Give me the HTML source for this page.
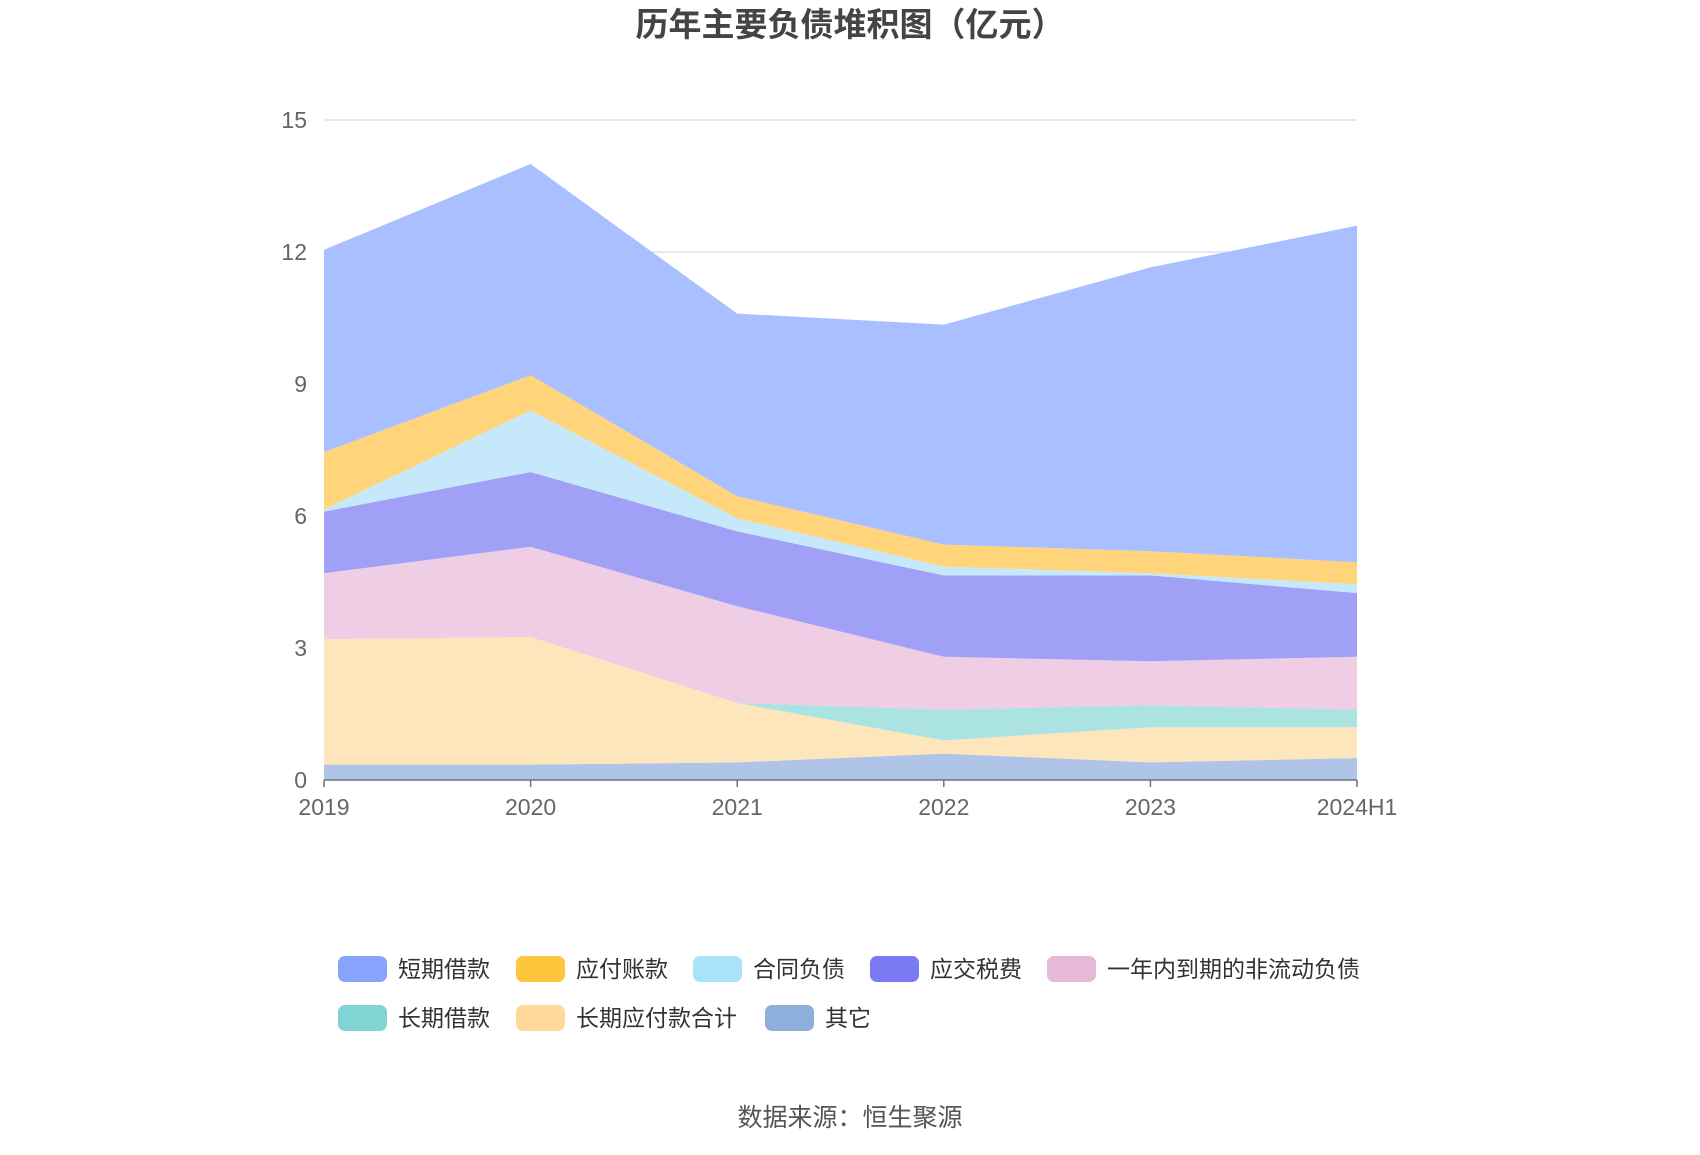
<!DOCTYPE html>
<html><head><meta charset="utf-8"><style>
body{margin:0;background:#fff;width:1700px;height:1150px;overflow:hidden;font-family:"Liberation Sans","Noto Sans CJK SC",sans-serif;}
</style></head><body>
<svg id="chart" width="1700" height="1150" xmlns="http://www.w3.org/2000/svg">
<text x="850" y="36" text-anchor="middle" font-size="33" font-weight="bold" fill="#444" font-family="Liberation Sans, Noto Sans CJK SC, sans-serif">历年主要负债堆积图（亿元）</text>
<g id="grid"></g><g id="areas"></g><g id="axes"></g><g id="legend"></g>
<text x="850" y="1126" text-anchor="middle" font-size="25" fill="#555" font-family="Liberation Sans, Noto Sans CJK SC, sans-serif">数据来源：恒生聚源</text>
</svg>
<script>
const categories=["2019","2020","2021","2022","2023","2024H1"];
const yTicks=[0,3,6,9,12,15];
const seriesNames=["其它","长期应付款合计","长期借款","一年内到期的非流动负债","应交税费","合同负债","应付账款","短期借款"];
const other=[0.35,0.35,0.4,0.6,0.4,0.5];
const ltPayable=[2.85,2.9,1.35,0.3,0.8,0.7];
const ltLoan=[0,0,0,0.7,0.5,0.4];
const currentNonCurrent=[1.5,2.05,2.2,1.2,1.0,1.2];
const taxPayable=[1.4,1.7,1.7,1.85,1.95,1.45];
const contractLiab=[0.05,1.4,0.3,0.2,0.05,0.2];
const accountsPayable=[1.3,0.8,0.5,0.5,0.5,0.5];
const shortLoan=[4.6,4.8,4.15,5.0,6.45,7.65];
const series=[other,ltPayable,ltLoan,currentNonCurrent,taxPayable,contractLiab,accountsPayable,shortLoan];
const fills=["#afc4e6","#fde5bc","#abe2e2","#efcde4","#a0a0f7","#c5e9fb","#ffd47a","#aabfff"];
const swatch=["#8eaedc","#ffd99a","#82d4d4","#e8b8d9","#7a7af5","#a8e3fa","#ffc53d","#87a4fd"];
const slugs=["other","lt-payable","lt-loan","current-noncurrent","tax-payable","contract-liab","accounts-payable","short-loan"];
const NS="http://www.w3.org/2000/svg";
const x0=324,x1=1357,yb=780,yt=120,ymax=15;
const X=i=>x0+(x1-x0)*i/(categories.length-1);
const Y=v=>yb-(yb-yt)*v/ymax;
function mk(t,a,p){const e=document.createElementNS(NS,t);for(const k in a)e.setAttribute(k,a[k]);p.appendChild(e);return e;}
const grid=document.getElementById('grid');
yTicks.forEach(t=>{
 if(t>0){const l=mk('line',{x1:x0,x2:x1,y1:Y(t),y2:Y(t),stroke:'#e0e0f0','stroke-width':1.5},grid);
 
 }
 const tx=mk('text',{x:x0-17,y:Y(t)+8,'text-anchor':'end','font-size':23,fill:'#666'},grid);tx.textContent=t;
 
 
});
const areas=document.getElementById('areas');
let base=categories.map(()=>0);
series.forEach((s,k)=>{
 const top=base.map((b,i)=>b+s[i]);
 let d='M'+categories.map((c,i)=>X(i)+','+Y(top[i])).join('L');
 for(let i=categories.length-1;i>=0;i--)d+='L'+X(i)+','+Y(base[i]);
 d+='Z';
 const p=mk('path',{d:d,fill:fills[k],stroke:'none'},areas);
 
 
 base=top;
});
const axes=document.getElementById('axes');
const ax=mk('line',{x1:x0,x2:x1,y1:yb,y2:yb,stroke:'#6e7079','stroke-width':1.5},axes);


categories.forEach((c,i)=>{
 mk('line',{x1:X(i),x2:X(i),y1:yb,y2:yb+7,stroke:'#6e7079','stroke-width':1.5},axes);
 const t=mk('text',{x:X(i),y:yb+35,'text-anchor':'middle','font-size':23,fill:'#666'},axes);t.textContent=c;
 
 
});
const legend=document.getElementById('legend');
const order=[7,6,5,4,3,2,1,0];
const pos=[[338,969],[516,969],[693,969],[870,969],[1047,969],[338,1018],[516,1018],[765,1018]];
order.forEach((k,j)=>{
 const [lx,ly]=pos[j];
 const g=mk('g',{},legend);
 
 
 mk('rect',{x:lx,y:ly-13,width:49,height:26,rx:7,fill:swatch[k]},g);
 const t=mk('text',{x:lx+60,y:ly+8,'font-size':23,fill:'#333'},g);t.textContent=seriesNames[k];
});
</script>
</body></html>
